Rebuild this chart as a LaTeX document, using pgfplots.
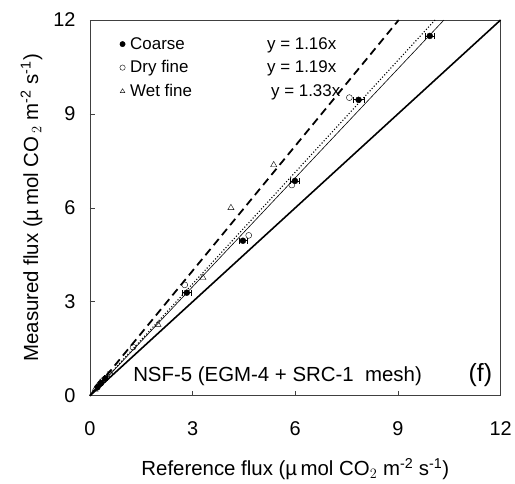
\documentclass[border=0pt]{standalone}
\usepackage{pgfplots}
\pgfplotsset{compat=1.18}
\usepackage{fontspec}
\setmainfont{Liberation Sans}
\begin{document}
\begin{tikzpicture}
\begin{axis}[
  scale only axis,
  width=411bp, height=376bp,
  xmin=0, xmax=12, ymin=0, ymax=12,
  xtick={0,3,6,9,12}, ytick={0,3,6,9,12},
  tick align=inside, xtick pos=bottom, ytick pos=left,
  major tick length=5bp,
  axis line style={line width=0.8pt, black!75},
  tick style={black!75, line width=0.6pt},
  /pgf/number format/assume math mode=true,
  ticklabel style={font=\fontsize{20}{24}\selectfont},
  xticklabel style={yshift=-22bp},
  yticklabel style={xshift=-11bp},
  xlabel={Reference flux (\textmu\,mol CO$_2$ m\textsuperscript{-2} s\textsuperscript{-1})},
  ylabel={Measured flux (\textmu\,mol CO\,$_2$ m\textsuperscript{-2} s\textsuperscript{-1})},
  label style={font=\fontsize{20.5}{24}\selectfont},
  xlabel style={yshift=-16bp},
  ylabel style={yshift=4bp},
  legend style={draw=none, fill=none, at={(0.07,0.962)}, anchor=north west,
     font=\fontsize{17}{20}\selectfont, row sep=6bp, inner sep=1pt,
     nodes={inner xsep=5bp}},
  legend cell align=left,
  legend image code/.code={\draw[mark size=2.7pt] plot coordinates {(0.3cm,0cm)};},
  clip=false,
]
\addplot[only marks, mark=*, mark size=3pt, black,
  error bars/.cd, x dir=both, x explicit, error bar style={line width=0.7pt}, error mark options={rotate=90, mark size=3pt}]
  coordinates {
  (0.22,0.27) +- (0.03,0)
  (0.32,0.40) +- (0.03,0)
  (0.45,0.55) +- (0.04,0)
  (2.83,3.29) +- (0.12,0)
  (4.47,4.95) +- (0.12,0)
  (5.99,6.86) +- (0.13,0)
  (7.85,9.45) +- (0.15,0)
  (9.93,11.49) +- (0.12,0)
};
\addlegendentry{\makebox[137bp][l]{Coarse}y = 1.16x}
\addplot[only marks, mark=o, mark size=3pt, black, mark options={fill=white}]
  coordinates {
  (0.28,0.36) (0.40,0.50) (0.58,0.70)
  (1.26,1.55) (2.77,3.54) (4.64,5.12) (5.90,6.73) (7.58,9.52)
};
\addlegendentry{\makebox[137bp][l]{Dry fine}y = 1.19x}
\addplot[only marks, mark=triangle, mark size=3.6pt, black, mark options={fill=white}]
  coordinates {
  (0.15,0.20) (0.30,0.42) (1.99,2.27) (3.30,3.77) (4.12,6.00) (5.37,7.37)
};
\addlegendentry{\makebox[141bp][l]{Wet fine}y = 1.33x}
\addplot[black, line width=1.6pt, forget plot] coordinates {(0,0) (12,12)};
\addplot[black, line width=0.6pt, forget plot] coordinates {(0,0) (10.345,12)};
\addplot[black, line width=1.1pt, dotted, forget plot] coordinates {(0,0) (10.084,12)};
\addplot[black, line width=1.8pt, dash pattern=on 8bp off 5bp, forget plot] coordinates {(0,0) (9.023,12)};
\node[anchor=base west, font=\fontsize{20.5}{24}\selectfont, inner sep=0pt] at (axis cs:1.26,0.45) {NSF-5 (EGM-4 + SRC-1\ \ mesh)};
\node[anchor=base east, font=\fontsize{25}{30}\selectfont, inner sep=0pt] at (axis cs:11.76,0.45) {(f)};
\end{axis}
\path (current axis.south west) ++(-90bp,-87bp) coordinate (bbA);
\path (current axis.north east) ++(14bp,20bp) coordinate (bbB);
\path (bbA) rectangle (bbB);
\end{tikzpicture}
\end{document}
